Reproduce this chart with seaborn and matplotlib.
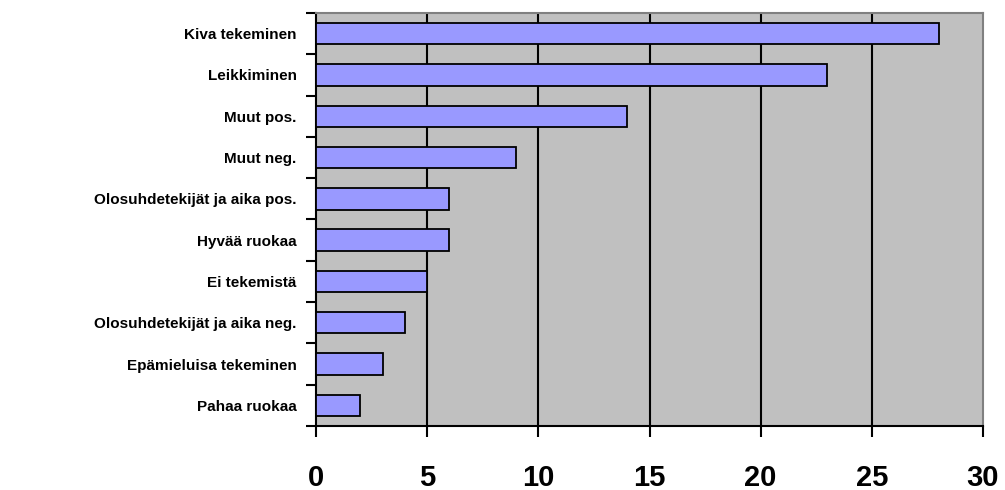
import matplotlib
matplotlib.use("Agg")
import matplotlib.pyplot as plt
import seaborn as sns
import numpy as np
import pandas as pd


categories = [
    "Kiva tekeminen",
    "Leikkiminen",
    "Muut pos.",
    "Muut neg.",
    "Olosuhdetekijät ja aika pos.",
    "Hyvää ruokaa",
    "Ei tekemistä",
    "Olosuhdetekijät ja aika neg.",
    "Epämieluisa tekeminen",
    "Pahaa ruokaa",
]
counts = [28, 23, 14, 9, 6, 6, 5, 4, 3, 2]
x_ticks = [0, 5, 10, 15, 20, 25, 30]

df = pd.DataFrame({"category": categories, "count": counts})

sns.set_style("white")
plt.rcParams["font.family"] = ["Liberation Sans", "DejaVu Sans"]
plt.rcParams["text.color"] = "black"
plt.rcParams["xtick.color"] = "black"
plt.rcParams["ytick.color"] = "black"

fig = plt.figure(figsize=(10.05, 4.9), dpi=100)
ax = fig.add_axes([316 / 1005, 64 / 490, 667 / 1005, 413 / 490])
ax.set_facecolor("#C0C0C0")

sns.barplot(
    data=df,
    x="count",
    y="category",
    orient="h",
    color="#9999FF",
    saturation=1,
    width=0.52,
    edgecolor="black",
    linewidth=1.3,
    ax=ax,
    zorder=3,
)

ax.set_xlim(0, 30)
ax.set_ylim(9.5, -0.5)
ax.set_xticks(x_ticks)
ax.set_xticklabels([str(t) for t in x_ticks], fontsize=21, fontweight="bold",
                   color="black")
for t in x_ticks[1:-1]:
    ax.axvline(t, color="black", linewidth=1.5, zorder=1)

ax.set_yticks(range(len(categories)))
ax.set_yticklabels(categories, fontsize=11, fontweight="bold", color="black")
ax.set_yticks(np.arange(-0.5, len(categories), 1), minor=True)
ax.tick_params(axis="y", which="major", length=0, pad=14)
ax.tick_params(axis="y", which="minor", length=7, width=1.5, color="black",
               direction="out", left=True)
ax.tick_params(axis="x", which="major", length=8, width=1.5, color="black",
               direction="out", bottom=True, pad=19)

ax.set_xlabel("")
ax.set_ylabel("")

for side in ["left", "bottom"]:
    ax.spines[side].set_color("black")
    ax.spines[side].set_linewidth(1.5)
for side in ["top", "right"]:
    ax.spines[side].set_color("#808080")
    ax.spines[side].set_linewidth(1.5)

fig.savefig("out.png", dpi=100)
